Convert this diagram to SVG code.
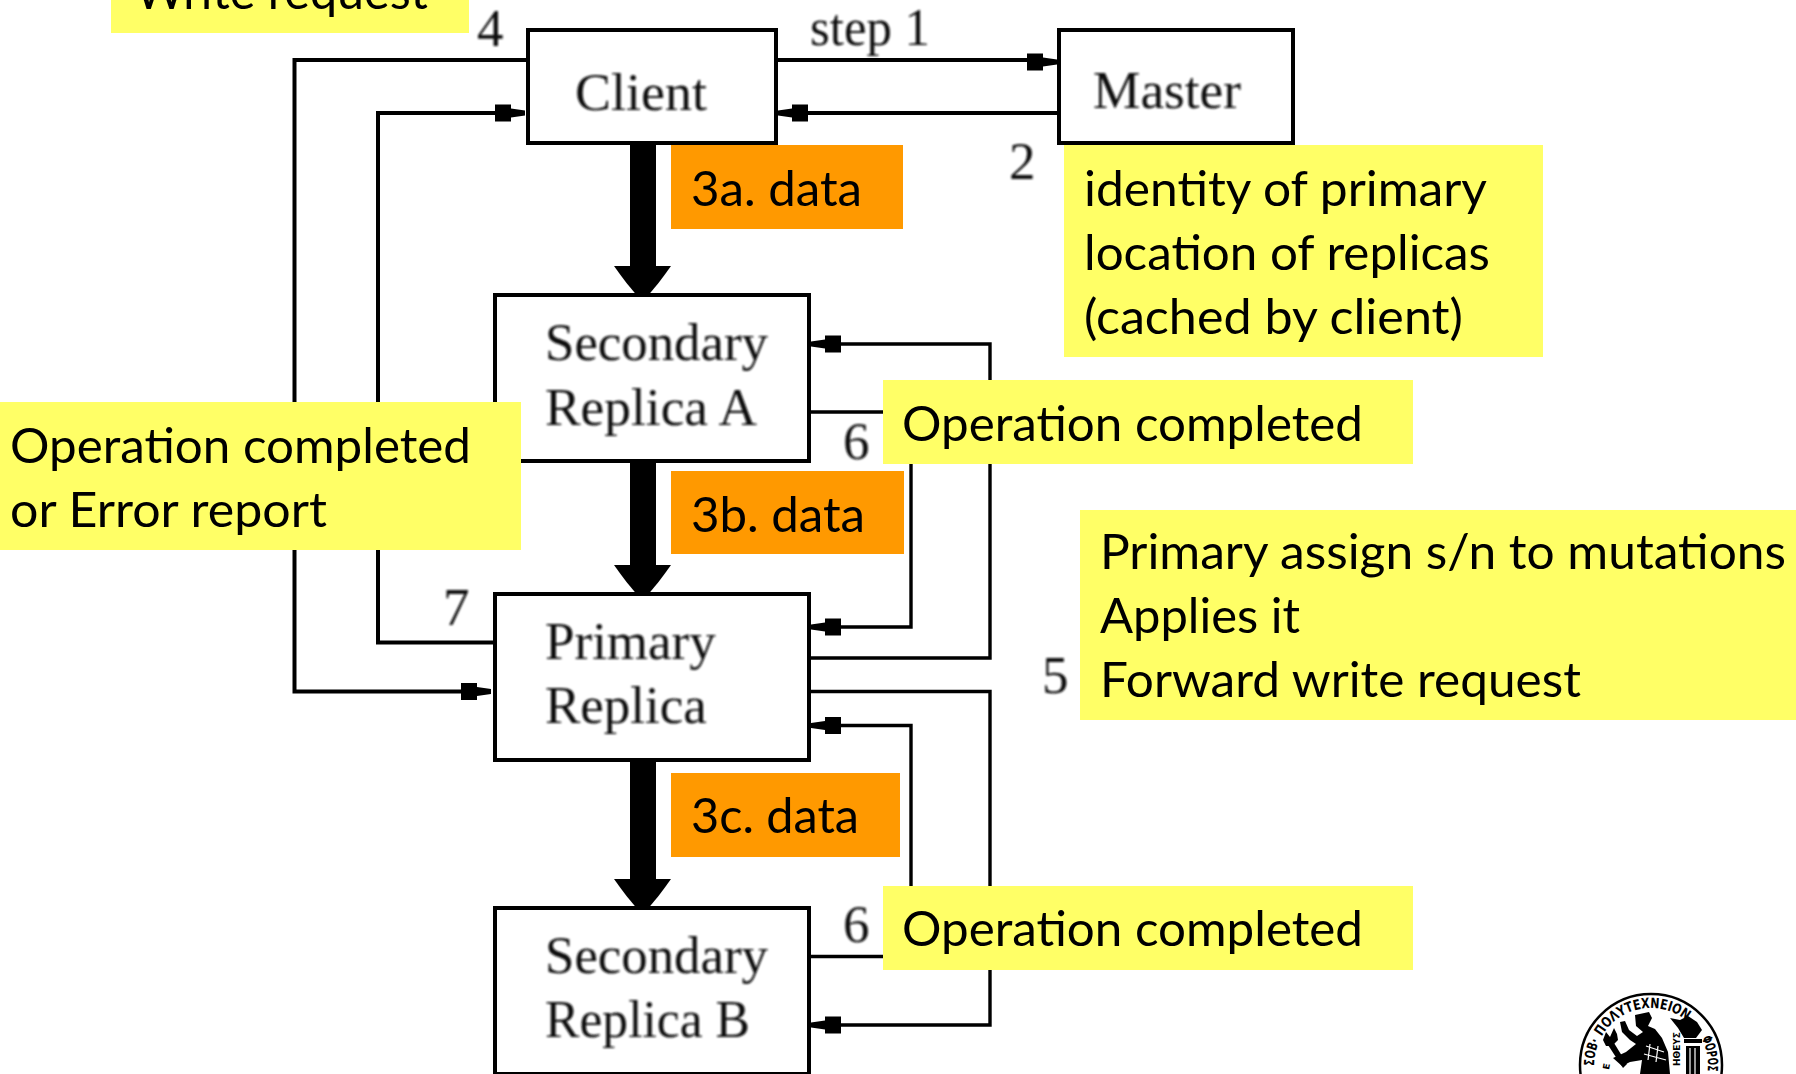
<svg xmlns="http://www.w3.org/2000/svg" xmlns:xlink="http://www.w3.org/1999/xlink" width="1796" height="1074" viewBox="0 0 1796 1074">
<style>
.box{fill:#fff;stroke:#000;stroke-width:4}
.line{fill:none;stroke:#000;stroke-width:4}
.thin{fill:none;stroke:#000;stroke-width:3.4}
.fig{font-family:"Liberation Serif","Times New Roman",serif;font-size:53px;fill:#111}
.note{font-family:Lato,"Open Sans",sans-serif;font-size:49px;fill:#000}
.y{fill:#ffff66}
.o{fill:#ff9900}
.seal{font-family:"DejaVu Sans",sans-serif;font-weight:bold;font-size:14px;fill:#000}
.small{font-size:9px}
.ink{fill:#000}
.hatch{fill:none;stroke:#fff;stroke-width:1.200}
</style>
<defs>
<g id="tip"><rect x="-33" y="-8.5" width="16" height="17"/><path d="M-17-4.5L-3-2.5V2.500L-17 4.500Z"/></g>
<g id="head"><path d="M-28.500 0H28.500L22 9L16 17L11 23L6 29H-6L-11 23L-16 17L-22 9Z"/></g>
<filter id="soft" x="-5%" y="-5%" width="110%" height="110%"><feGaussianBlur stdDeviation="0.8"/></filter>
<path id="arcMain" d="M1601.600 1036.500A57 57 0 0 1 1684.500 1018.900"/>
<path id="arcLeft" d="M1594 1066A57 57 0 0 1 1600 1040"/>
<path id="arcRight" d="M1701.300 1038.200A57 57 0 0 1 1707.400 1072.900"/>
</defs>
<rect width="1796" height="1074" fill="#fff"/>

<g id="connectors">
<path class="line" d="M776 60H1040"/>
<path class="line" d="M1058 113H800"/>
<path class="line" d="M528 60H294.500V691.500H470"/>
<path class="line" d="M494 642.500H378V113H505"/>
<path class="thin" d="M808 658H990V344H835"/>
<path class="thin" d="M808 691.500H990V1025H835"/>
<path class="thin" d="M808 412H911V627H835"/>
<path class="thin" d="M808 956.500H911V725.500H835"/>
<rect x="630" y="143" width="26" height="125"/>
<rect x="630" y="461" width="26" height="106"/>
<rect x="630" y="760" width="26" height="121"/>
<use href="#head" x="642.500" y="266"/>
<use href="#head" x="642.500" y="565"/>
<use href="#head" x="642.500" y="879"/>
<use href="#tip" transform="translate(1060 62)"/>
<use href="#tip" transform="translate(775 113) scale(-1 1)"/>
<use href="#tip" transform="translate(528 113)"/>
<use href="#tip" transform="translate(494 691.500)"/>
<use href="#tip" transform="translate(808 344) scale(-1 1)"/>
<use href="#tip" transform="translate(808 627) scale(-1 1)"/>
<use href="#tip" transform="translate(808 725.500) scale(-1 1)"/>
<use href="#tip" transform="translate(808 1025) scale(-1 1)"/>
</g>

<g id="client"><rect class="box" x="528" y="30" width="248" height="113"/><text class="fig" x="575" y="110" textLength="132" lengthAdjust="spacingAndGlyphs" filter="url(#soft)">Client</text></g>
<g id="master"><rect class="box" x="1059" y="30" width="234" height="113"/><text class="fig" x="1093" y="108" textLength="148" lengthAdjust="spacingAndGlyphs" filter="url(#soft)">Master</text></g>
<g id="secondary-a"><rect class="box" x="495" y="295" width="314" height="166"/><text class="fig" x="545" y="360" textLength="223" lengthAdjust="spacingAndGlyphs" filter="url(#soft)">Secondary</text><text class="fig" x="545" y="425" textLength="212" lengthAdjust="spacingAndGlyphs" filter="url(#soft)">Replica A</text></g>
<g id="primary"><rect class="box" x="495" y="594" width="314" height="166"/><text class="fig" x="545" y="659" filter="url(#soft)">Primary</text><text class="fig" x="545" y="723" filter="url(#soft)">Replica</text></g>
<g id="secondary-b"><rect class="box" x="495" y="908" width="314" height="166"/><text class="fig" x="545" y="973" textLength="223" lengthAdjust="spacingAndGlyphs" filter="url(#soft)">Secondary</text><text class="fig" x="545" y="1037" textLength="205" lengthAdjust="spacingAndGlyphs" filter="url(#soft)">Replica B</text></g>

<g id="step-labels" filter="url(#soft)">
<text class="fig" x="810" y="45" textLength="120" lengthAdjust="spacingAndGlyphs">step 1</text>
<text class="fig" x="477" y="46">4</text>
<text class="fig" x="1009" y="179">2</text>
<text class="fig" x="843" y="459">6</text>
<text class="fig" x="443" y="625">7</text>
<text class="fig" x="1042" y="693">5</text>
<text class="fig" x="843" y="942">6</text>
</g>

<g id="note-write"><rect class="y" x="111" y="0" width="358" height="33"/><text class="note" x="135" y="9" textLength="293" lengthAdjust="spacingAndGlyphs">Write request</text></g>
<g id="note-client"><rect class="y" x="0" y="402" width="521" height="148"/><text class="note" x="10" y="463" textLength="461" lengthAdjust="spacingAndGlyphs">Operation completed</text><text class="note" x="10" y="527" textLength="317" lengthAdjust="spacingAndGlyphs">or Error report</text></g>
<g id="note-3a"><rect class="o" x="671" y="145" width="232" height="84"/><text class="note" x="691" y="206" textLength="171" lengthAdjust="spacingAndGlyphs">3a. data</text></g>
<g id="note-3b"><rect class="o" x="671" y="471" width="233" height="83"/><text class="note" x="691" y="532" textLength="174" lengthAdjust="spacingAndGlyphs">3b. data</text></g>
<g id="note-3c"><rect class="o" x="671" y="773" width="229" height="84"/><text class="note" x="691" y="833" textLength="168" lengthAdjust="spacingAndGlyphs">3c. data</text></g>
<g id="note-master"><rect class="y" x="1064" y="145" width="479" height="212"/><text class="note" x="1084" y="206" textLength="403" lengthAdjust="spacingAndGlyphs">identity of primary</text><text class="note" x="1084" y="270" textLength="406" lengthAdjust="spacingAndGlyphs">location of replicas</text><text class="note" x="1084" y="334" textLength="379" lengthAdjust="spacingAndGlyphs">(cached by client)</text></g>
<g id="note-a"><rect class="y" x="883" y="380" width="530" height="84"/><text class="note" x="902" y="441" textLength="461" lengthAdjust="spacingAndGlyphs">Operation completed</text></g>
<g id="note-primary"><rect class="y" x="1080" y="510" width="716" height="210"/><text class="note" x="1100" y="569" textLength="686" lengthAdjust="spacingAndGlyphs">Primary assign s/n to mutations</text><text class="note" x="1100" y="633" textLength="200" lengthAdjust="spacingAndGlyphs">Applies it</text><text class="note" x="1100" y="697" textLength="481" lengthAdjust="spacingAndGlyphs">Forward write request</text></g>
<g id="note-b"><rect class="y" x="883" y="886" width="530" height="84"/><text class="note" x="902" y="946" textLength="461" lengthAdjust="spacingAndGlyphs">Operation completed</text></g>

<g id="seal">
<circle cx="1651" cy="1065" r="71" fill="none" stroke="#000" stroke-width="2.500"/>
<text class="seal"><textPath href="#arcMain" textLength="98" lengthAdjust="spacingAndGlyphs">ΠΟΛΥΤΕΧΝΕΙΟΝ</textPath></text>
<text class="seal"><textPath href="#arcLeft" textLength="26" lengthAdjust="spacingAndGlyphs">ΣΟΒ·</textPath></text>
<text class="seal"><textPath href="#arcRight" textLength="34" lengthAdjust="spacingAndGlyphs">ΦΟΡΟΣ</textPath></text>
<text class="seal small" transform="translate(1680 1066) rotate(-90)">ΗΘΕΥΣ</text>
<text class="seal small" transform="translate(1609 1070) rotate(-80)">Ε</text>
<path class="ink" d="M1635 1015L1649 1012L1652 1018L1648 1026L1655 1029L1662 1038L1668 1052L1670 1074H1640L1642 1060L1630 1062L1622 1066L1613 1058L1626 1052L1636 1044L1630 1040L1622 1032L1620 1022L1625 1021L1629 1030L1637 1036L1643 1032L1636 1026Z"/>
<path class="hatch" d="M1646 1046L1664 1052M1644 1054L1666 1060M1650 1044L1648 1060M1658 1046L1656 1062"/>
<path class="ink" d="M1608 1045L1614 1043L1627 1064L1623 1068Z"/>
<path class="ink" d="M1603 1040L1606 1032L1610 1037L1614 1028L1617 1034L1618 1040L1612 1046L1606 1046Z"/>
<path class="ink" d="M1670 1018L1680 1020L1688 1016L1697 1022L1702 1030L1696 1038H1684L1678 1028Z"/>
<rect class="ink" x="1684" y="1039" width="18" height="4"/>
<rect class="ink" x="1686" y="1046" width="14" height="28"/>
<path class="hatch" d="M1690 1048V1074M1695 1048V1074"/>
</g>
</svg>
